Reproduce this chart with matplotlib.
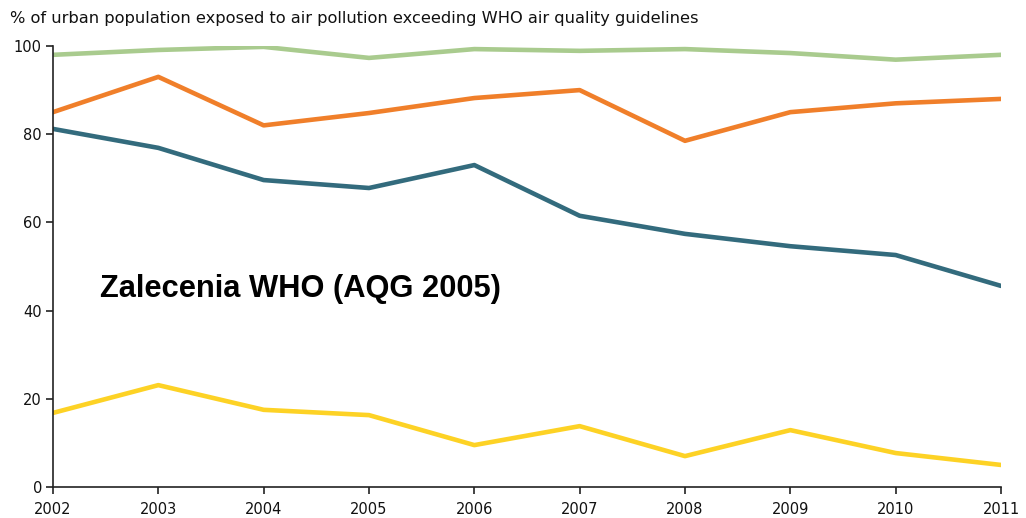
import matplotlib
matplotlib.use("Agg")
import matplotlib.pyplot as plt
from matplotlib import font_manager as fm

years = [2002, 2003, 2004, 2005, 2006, 2007, 2008, 2009, 2010, 2011]
green = [98.0, 99.1, 99.8, 97.3, 99.3, 98.9, 99.3, 98.4, 96.9, 98.0]
orange = [85.0, 93.0, 82.0, 84.8, 88.2, 90.0, 78.5, 85.0, 87.0, 88.0]
blue = [81.2, 76.9, 69.6, 67.8, 73.0, 61.5, 57.4, 54.6, 52.6, 45.6]
yellow = [16.8, 23.1, 17.5, 16.3, 9.5, 13.8, 7.0, 12.9, 7.7, 5.0]
yticks = [0, 20, 40, 60, 80, 100]

plt.rcParams["font.family"] = ["DejaVu Sans"]
dv_path = fm.findfont(fm.FontProperties(family="DejaVu Sans"))
lb_path = fm.findfont(fm.FontProperties(family="Liberation Sans", weight="bold"))
fp_tick = fm.FontProperties(fname=dv_path, size=10.5)
fp_title = fm.FontProperties(fname=dv_path, size=11.7)
fp_big = fm.FontProperties(fname=lb_path, size=22.2)

fig = plt.figure(figsize=(10.26, 5.18), dpi=100)
ax = fig.add_axes([53/1026, 31/518, 948/1026, 441/518])

lw = 3.3
ax.plot(years, green, color="#a9cb8e", lw=lw, solid_capstyle="round", solid_joinstyle="round")
ax.plot(years, orange, color="#f07f2a", lw=lw, solid_capstyle="round", solid_joinstyle="round")
ax.plot(years, blue, color="#336b7d", lw=lw, solid_capstyle="round", solid_joinstyle="round")
ax.plot(years, yellow, color="#fdd225", lw=lw, solid_capstyle="round", solid_joinstyle="round")

ax.set_xlim(2002, 2011)
ax.set_ylim(0, 100)
ax.set_xticks(years)
ax.set_yticks(yticks)
for s in ["top", "right"]:
    ax.spines[s].set_visible(False)
for s in ["left", "bottom"]:
    ax.spines[s].set_color("#222222")
    ax.spines[s].set_linewidth(1.2)
ax.tick_params(axis="both", direction="out", length=5, width=1.2, color="#222222",
               labelcolor="#111111")
ax.tick_params(axis="x", pad=6)
ax.tick_params(axis="y", pad=3)
for lab in ax.get_xticklabels() + ax.get_yticklabels():
    lab.set_fontproperties(fp_tick)

fig.text(10/1026, 1 - 18/518, "% of urban population exposed to air pollution exceeding WHO air quality guidelines",
         fontproperties=fp_title, color="#111111", va="center", ha="left")

ax.text(2002.445, 45, "Zalecenia WHO (AQG 2005)", fontproperties=fp_big,
        color="black", va="center", ha="left")

fig.savefig("out.png", dpi=100)
